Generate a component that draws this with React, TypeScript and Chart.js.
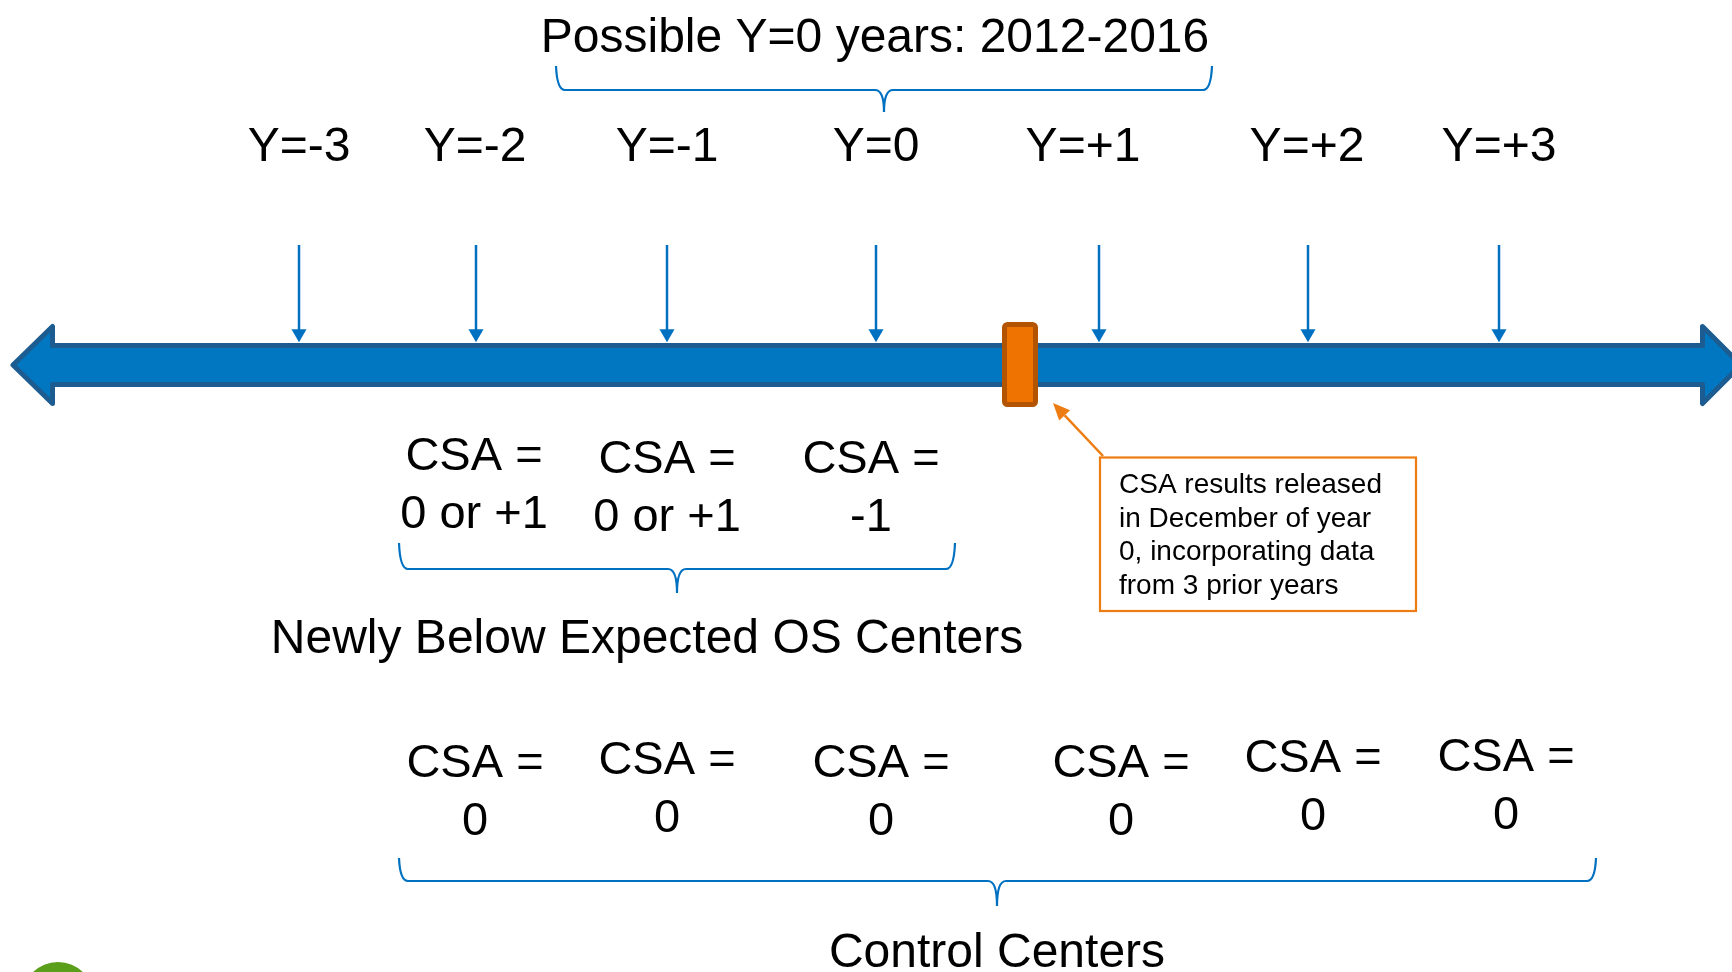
import React, { useEffect, useRef } from 'react';
import { Chart, registerables } from 'chart.js';

Chart.register(...registerables);

// ---- content ----
const titleText = 'Possible Y=0 years: 2012-2016';
const yearLabels = ['Y=-3', 'Y=-2', 'Y=-1', 'Y=0', 'Y=+1', 'Y=+2', 'Y=+3'];
const newlyCSA = ['0 or +1', '0 or +1', '-1'];
const controlCSA = ['0', '0', '0', '0', '0', '0'];
const calloutLines = ['CSA results released', 'in December of year', '0, incorporating data', 'from 3 prior years'];
const groupLabels = ['Newly Below Expected OS Centers', 'Control Centers'];

// ---- layout (canvas units, mapped through the chart scales) ----
const W = 1732;
const H = 972;
const LAYOUT = {
  yearArrowX: [299, 476, 667, 876, 1099, 1308, 1499],
  yearLabelX: [299, 475, 667, 876, 1083, 1307, 1499],
  newlyX: [474, 667, 871],
  newlyBase: [470, 473, 473],
  controlX: [475, 667, 881, 1121, 1313, 1506],
  controlBase: [777, 774, 777, 777, 772, 771],
};

const FONT = '"Liberation Sans", Arial, sans-serif';
const BLUE = '#0070c0';
const DARKBLUE = '#1d5c90';
const ORANGE = '#ed7d12';

function diagramPlugin() {
  return {
    id: 'diagram',
    beforeDatasetsDraw(chart: any) {
      const ctx = chart.ctx as CanvasRenderingContext2D;
      const X = (v: number) => chart.scales.x.getPixelForValue(v);
      const Y = (v: number) => chart.scales.y.getPixelForValue(v);
      // main double-headed arrow
      const tipL = X(13), baseL = X(52.5), baseR = X(1702.5), tipR = X(1741);
      const cy = Y(365), bt = Y(345.5), bb = Y(384.5), ht = Y(326.5), hb = Y(403.5);
      ctx.save();
      ctx.beginPath();
      ctx.moveTo(tipL, cy);
      ctx.lineTo(baseL, ht);
      ctx.lineTo(baseL, bt);
      ctx.lineTo(baseR, bt);
      ctx.lineTo(baseR, ht);
      ctx.lineTo(tipR, cy);
      ctx.lineTo(baseR, hb);
      ctx.lineTo(baseR, bb);
      ctx.lineTo(baseL, bb);
      ctx.lineTo(baseL, hb);
      ctx.closePath();
      ctx.fillStyle = '#0077c0';
      ctx.fill();
      ctx.lineJoin = 'round';
      ctx.lineWidth = 5;
      ctx.strokeStyle = DARKBLUE;
      ctx.stroke();
      ctx.restore();
    },
    afterDatasetsDraw(chart: any) {
      const ctx = chart.ctx as CanvasRenderingContext2D;
      const X = (v: number) => chart.scales.x.getPixelForValue(v);
      const Y = (v: number) => chart.scales.y.getPixelForValue(v);
      ctx.save();

      // orange release marker
      const rx1 = X(1004.5), rx2 = X(1035.5), ry1 = Y(324.5), ry2 = Y(404.5);
      ctx.beginPath();
      (ctx as any).roundRect(rx1, ry1, rx2 - rx1, ry2 - ry1, 3);
      ctx.fillStyle = '#ee7300';
      ctx.fill();
      ctx.lineWidth = 5;
      ctx.strokeStyle = '#b35500';
      ctx.stroke();

      // braces
      const brace = (x1: number, x2: number, top: number, line: number, tip: number, cx: number) => {
        const a = X(x1), b = X(x2), c = X(cx), t = Y(top), l = Y(line), p = Y(tip);
        const r = 9;
        ctx.beginPath();
        ctx.moveTo(a, t);
        ctx.quadraticCurveTo(a + 1, l, a + r, l);
        ctx.lineTo(c - r, l);
        ctx.quadraticCurveTo(c, l, c, p);
        ctx.moveTo(b, t);
        ctx.quadraticCurveTo(b - 1, l, b - r, l);
        ctx.lineTo(c + r, l);
        ctx.quadraticCurveTo(c, l, c, p);
        ctx.lineWidth = 2.2;
        ctx.strokeStyle = BLUE;
        ctx.stroke();
      };
      brace(556, 1212, 66, 90, 112, 884);
      brace(399, 955, 543, 569, 593, 677);
      brace(399, 1596, 858, 881, 906, 997);

      // callout arrow
      const ax1 = X(1103), ay1 = Y(456), ax2 = X(1053), ay2 = Y(403);
      const ang = Math.atan2(ay2 - ay1, ax2 - ax1);
      const hl = 17, hw = 7.5;
      const bx = ax2 - Math.cos(ang) * hl, by = ay2 - Math.sin(ang) * hl;
      ctx.beginPath();
      ctx.moveTo(ax1, ay1);
      ctx.lineTo(bx, by);
      ctx.lineWidth = 2.5;
      ctx.strokeStyle = ORANGE;
      ctx.stroke();
      ctx.beginPath();
      ctx.moveTo(ax2, ay2);
      ctx.lineTo(bx + Math.sin(ang) * hw, by - Math.cos(ang) * hw);
      ctx.lineTo(bx - Math.sin(ang) * hw, by + Math.cos(ang) * hw);
      ctx.closePath();
      ctx.fillStyle = ORANGE;
      ctx.fill();

      // callout box
      ctx.lineWidth = 2.2;
      ctx.strokeStyle = ORANGE;
      ctx.strokeRect(X(1100), Y(457.5), X(1416) - X(1100), Y(611) - Y(457.5));

      // texts
      ctx.fillStyle = '#000000';
      ctx.textBaseline = 'alphabetic';
      ctx.textAlign = 'center';
      ctx.font = `48px ${FONT}`;
      ctx.fillText(titleText, X(875), Y(52));
      yearLabels.forEach((t, i) => ctx.fillText(t, X(LAYOUT.yearLabelX[i]), Y(161)));
      ctx.fillText(groupLabels[0], X(647), Y(653));
      ctx.fillText(groupLabels[1], X(997), Y(967));

      ctx.font = `47px ${FONT}`;
      newlyCSA.forEach((t, i) => {
        ctx.fillText('CSA =', X(LAYOUT.newlyX[i]), Y(LAYOUT.newlyBase[i]));
        ctx.fillText(t, X(LAYOUT.newlyX[i]), Y(LAYOUT.newlyBase[i] + 58));
      });
      controlCSA.forEach((t, i) => {
        ctx.fillText('CSA =', X(LAYOUT.controlX[i]), Y(LAYOUT.controlBase[i]));
        ctx.fillText(t, X(LAYOUT.controlX[i]), Y(LAYOUT.controlBase[i] + 58));
      });

      ctx.textAlign = 'left';
      ctx.font = `28px ${FONT}`;
      calloutLines.forEach((t, i) => ctx.fillText(t, X(1119), Y(493 + i * 33.7)));

      // green corner mark
      ctx.beginPath();
      ctx.arc(X(58), Y(998), 36, 0, Math.PI * 2);
      ctx.fillStyle = '#5a9e1a';
      ctx.fill();

      ctx.restore();
    },
  };
}

export default function App() {
  const ref = useRef<HTMLCanvasElement | null>(null);
  useEffect(() => {
    document.body.style.margin = '0';
    if (!ref.current) return;
    const datasets = LAYOUT.yearArrowX.map((x, i) => ({
      label: yearLabels[i],
      data: [
        { x, y: 245 },
        { x, y: 333.5 },
      ],
      showLine: true,
      borderColor: BLUE,
      borderWidth: 2.5,
      pointRadius: [0, 8.7],
      pointStyle: 'triangle',
      pointRotation: 180,
      pointBackgroundColor: BLUE,
      pointBorderWidth: 0,
      pointBorderColor: BLUE,
      clip: false,
    }));
    const chart = new Chart(ref.current, {
      type: 'scatter',
      data: { datasets: datasets as any },
      options: {
        responsive: false,
        animation: false,
        devicePixelRatio: 1,
        layout: { padding: 0, autoPadding: false },
        plugins: { legend: { display: false }, tooltip: { enabled: false } },
        events: [],
        scales: {
          x: { type: 'linear', min: 0, max: W, display: false },
          y: { type: 'linear', min: 0, max: H, reverse: true, display: false },
        },
      },
      plugins: [diagramPlugin()],
    });
    return () => chart.destroy();
  }, []);
  return (
    <div style={{ width: W, height: H, background: '#ffffff' }}>
      <canvas ref={ref} width={W} height={H} style={{ display: 'block', width: W, height: H }} />
    </div>
  );
}
